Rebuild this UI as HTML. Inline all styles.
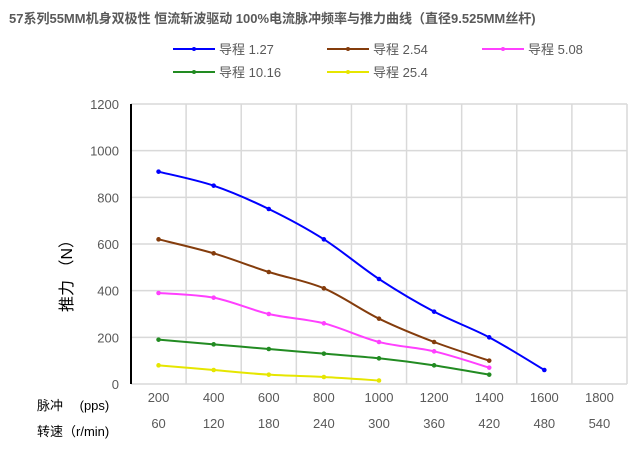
<!DOCTYPE html>
<html><head><meta charset="utf-8">
<style>
body{margin:0;background:#fff;}
svg{display:block;font-family:"Liberation Sans","Noto Sans CJK SC",sans-serif;}
</style></head>
<body>
<svg id="chart" width="640" height="450" viewBox="0 0 640 450">
<text x="9" y="23" font-size="13" font-weight="bold" fill="#595959">57系列55MM机身双极性 恒流斩波驱动 100%电流脉冲频率与推力曲线（直径9.525MM丝杆)</text>
<g id="grid"></g>
<g id="series"></g>
<g id="legend"></g>
<g id="axes"></g>
<text transform="translate(72,272) rotate(-90)" text-anchor="middle" font-size="16" fill="#000">推力 （N）</text>
<text x="37" y="410" font-size="13" fill="#000">脉冲　 (pps)</text>
<text x="37" y="436" font-size="13" fill="#000">转速（r/min)</text>
</svg>
<script>
const pulses=["200","400","600","800","1000","1200","1400","1600","1800"];
const speeds=["60","120","180","240","300","360","420","480","540"];
const yTicks=[0,200,400,600,800,1000,1200];
const seriesNames=["导程 1.27","导程 2.54","导程  5.08","导程  10.16","导程  25.4"];
const s127=[910,850,750,620,450,310,200,60];
const s254=[620,560,480,410,280,180,100];
const s508=[390,370,300,260,180,140,70];
const s1016=[190,170,150,130,110,80,40];
const s254b=[80,60,40,30,15];
const colors=["#0000ff","#843c0c","#ff40ff","#228b22","#e6e600"];
const allSeries=[s127,s254,s508,s1016,s254b];

const NS="http://www.w3.org/2000/svg";
const L=131,R=627,T=104,B=384;
const band=(R-L)/pulses.length;
const xs=i=>L+band*(i+0.5);
const ys=v=>B-(v/1200)*(B-T);
function mk(tag,attrs,parent){const e=document.createElementNS(NS,tag);for(const k in attrs)e.setAttribute(k,attrs[k]);parent.appendChild(e);return e;}
const grid=document.getElementById('grid'),axes=document.getElementById('axes'),ser=document.getElementById('series'),leg=document.getElementById('legend');
yTicks.forEach(v=>{
  const g=mk('line',{x1:L,x2:R,y1:ys(v),y2:ys(v),stroke:'#d9d9d9','stroke-width':1.5},grid);
  
  
  const t=mk('text',{x:L-12,y:ys(v)+5,'text-anchor':'end','font-size':13,fill:'#595959'},axes);
  t.textContent=v;
  
  
});
for(let i=1;i<=pulses.length;i++){
  const g=mk('line',{x1:L+band*i,x2:L+band*i,y1:T,y2:B,stroke:'#d9d9d9','stroke-width':1.5},grid);
  
  
}
pulses.forEach((p,i)=>{
  const t=mk('text',{x:xs(i),y:402,'text-anchor':'middle','font-size':13,fill:'#595959'},axes);
  t.textContent=p;
  
  
  const t2=mk('text',{x:xs(i),y:428,'text-anchor':'middle','font-size':13,fill:'#595959'},axes);
  t2.textContent=speeds[i];
  
  
});
const ax=mk('line',{x1:L,x2:L,y1:T,y2:B,stroke:'#000','stroke-width':2},axes);


function smooth(pts){
  let d=`M${pts[0][0]},${pts[0][1]}`;
  for(let i=0;i<pts.length-1;i++){
    const p0=pts[i-1]||pts[i],p1=pts[i],p2=pts[i+1],p3=pts[i+2]||p2;
    const k=0.16;
    d+=` C${p1[0]+(p2[0]-p0[0])*k},${p1[1]+(p2[1]-p0[1])*k} ${p2[0]-(p3[0]-p1[0])*k},${p2[1]-(p3[1]-p1[1])*k} ${p2[0]},${p2[1]}`;
  }
  return d;
}
allSeries.forEach((s,si)=>{
  const pts=s.map((v,i)=>[xs(i),ys(v)]);
  const p=mk('path',{d:smooth(pts),fill:'none',stroke:colors[si],'stroke-width':2},ser);
  
  
  pts.forEach(q=>{
    const c=mk('circle',{cx:q[0],cy:q[1],r:2.3,fill:colors[si]},ser);
    
    
  });
});
const legPos=[[173,49],[327,49],[482,49],[173,72],[327,72]];
seriesNames.forEach((n,i)=>{
  const [x,y]=legPos[i];
  const l=mk('line',{x1:x,x2:x+42,y1:y,y2:y,stroke:colors[i],'stroke-width':2},leg);
  
  
  mk('circle',{cx:x+21,cy:y,r:2,fill:colors[i]},leg);
  const t=mk('text',{x:x+46,y:y+5,'font-size':13,fill:'#595959'},leg);
  t.textContent=n;
  
  
});
</script>
</body></html>
